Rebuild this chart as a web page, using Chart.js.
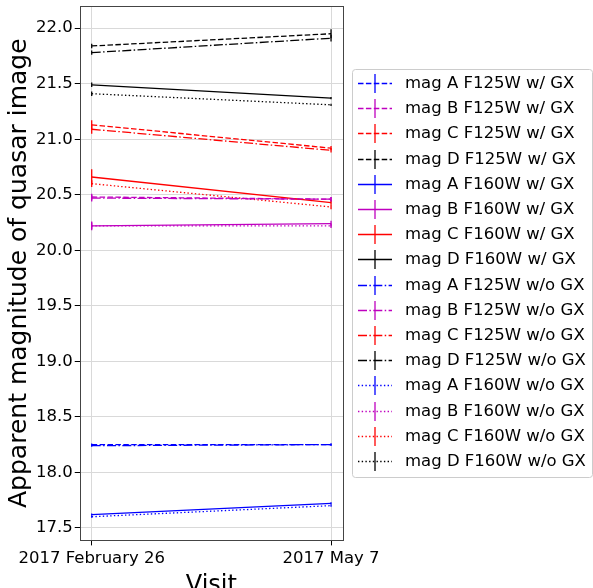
<!DOCTYPE html>
<html>
<head>
<meta charset="utf-8">
<script src="https://cdn.jsdelivr.net/npm/chart.js@4.4.1/dist/chart.umd.min.js"></script>
<style>
  html, body { margin: 0; padding: 0; background: #fff; overflow: hidden; }
  #wrap { width: 593px; height: 600px; position: relative; }
</style>
</head>
<body>
<div id="wrap"><canvas id="c"></canvas></div>
<script>
const visits = ['2017 February 26', '2017 May 7'];

// apparent magnitude per visit [Feb 26, May 7]
const magA_F125W_gx = [18.25, 18.25];
const magB_F125W_gx = [20.48, 20.46];
const magC_F125W_gx = [21.13, 20.92];
const magD_F125W_gx = [21.84, 21.95];
const magA_F160W_gx = [17.62, 17.72];
const magB_F160W_gx = [20.22, 20.24];
const magC_F160W_gx = [20.66, 20.43];
const magD_F160W_gx = [21.49, 21.37];
const magA_F125W_nogx = [18.24, 18.25];
const magB_F125W_nogx = [20.47, 20.46];
const magC_F125W_nogx = [21.09, 20.90];
const magD_F125W_nogx = [21.78, 21.91];
const magA_F160W_nogx = [17.60, 17.70];
const magB_F160W_nogx = [20.22, 20.22];
const magC_F160W_nogx = [20.60, 20.39];
const magD_F160W_nogx = [21.41, 21.31];

// error bar half-lengths per visit
const errA_F125W_gx = [0.01, 0.01];
const errB_F125W_gx = [0.03, 0.02];
const errC_F125W_gx = [0.04, 0.02];
const errD_F125W_gx = [0.02, 0.04];
const errA_F160W_gx = [0.01, 0.01];
const errB_F160W_gx = [0.04, 0.025];
const errC_F160W_gx = [0.07, 0.02];
const errD_F160W_gx = [0.02, 0.01];
const errA_F125W_nogx = [0.01, 0.01];
const errB_F125W_nogx = [0.03, 0.02];
const errC_F125W_nogx = [0.04, 0.02];
const errD_F125W_nogx = [0.02, 0.03];
const errA_F160W_nogx = [0.01, 0.01];
const errB_F160W_nogx = [0.03, 0.02];
const errC_F160W_nogx = [0.03, 0.02];
const errD_F160W_nogx = [0.02, 0.01];

const seriesNames = [
  'mag A F125W w/ GX', 'mag B F125W w/ GX', 'mag C F125W w/ GX', 'mag D F125W w/ GX',
  'mag A F160W w/ GX', 'mag B F160W w/ GX', 'mag C F160W w/ GX', 'mag D F160W w/ GX',
  'mag A F125W w/o GX', 'mag B F125W w/o GX', 'mag C F125W w/o GX', 'mag D F125W w/o GX',
  'mag A F160W w/o GX', 'mag B F160W w/o GX', 'mag C F160W w/o GX', 'mag D F160W w/o GX'
];

const mags = [
  magA_F125W_gx, magB_F125W_gx, magC_F125W_gx, magD_F125W_gx,
  magA_F160W_gx, magB_F160W_gx, magC_F160W_gx, magD_F160W_gx,
  magA_F125W_nogx, magB_F125W_nogx, magC_F125W_nogx, magD_F125W_nogx,
  magA_F160W_nogx, magB_F160W_nogx, magC_F160W_nogx, magD_F160W_nogx
];
const errs = [
  errA_F125W_gx, errB_F125W_gx, errC_F125W_gx, errD_F125W_gx,
  errA_F160W_gx, errB_F160W_gx, errC_F160W_gx, errD_F160W_gx,
  errA_F125W_nogx, errB_F125W_nogx, errC_F125W_nogx, errD_F125W_nogx,
  errA_F160W_nogx, errB_F160W_nogx, errC_F160W_nogx, errD_F160W_nogx
];

const FONT = 'DejaVu Sans';
const colors = ['#0000ff', '#bf00bf', '#ff0000', '#000000'];   // A, B, C, D
const dashes = [[5.5, 2.4], [], [9, 2.4, 1.5, 2.4], [1.4, 2.3]]; // F125 gx, F160 gx, F125 no gx, F160 no gx

const datasets = mags.map((m, i) => ({
  label: seriesNames[i],
  data: m.map((v, j) => ({ x: j, y: v, err: errs[i][j] })),
  borderColor: colors[i % 4],
  borderDash: dashes[Math.floor(i / 4)],
  borderWidth: 1.3,
  pointRadius: 0,
  fill: false,
  tension: 0
}));

// vertical error bars, no caps (like matplotlib errorbar default)
const errorBars = {
  id: 'errorBars',
  afterDatasetsDraw(chart) {
    const ctx = chart.ctx, xs = chart.scales.x, ys = chart.scales.y;
    ctx.save();
    chart.data.datasets.forEach(ds => {
      ctx.strokeStyle = ds.borderColor;
      ctx.lineWidth = 1.3;
      ctx.setLineDash([]);
      ds.data.forEach(p => {
        const x = xs.getPixelForValue(p.x);
        ctx.beginPath();
        ctx.moveTo(x, ys.getPixelForValue(p.y - p.err));
        ctx.lineTo(x, ys.getPixelForValue(p.y + p.err));
        ctx.stroke();
      });
    });
    ctx.restore();
  }
};

const frame = {
  id: 'frame',
  afterDraw(chart) {
    const a = chart.chartArea, ctx = chart.ctx;
    ctx.save();
    ctx.strokeStyle = '#444';
    ctx.lineWidth = 1;
    ctx.strokeRect(Math.round(a.left) + 0.5, Math.round(a.top) + 0.5,
      Math.round(a.right - a.left), Math.round(a.bottom - a.top));
    ctx.restore();
  }
};

// matplotlib-like legend outside on the right
const sideLegend = {
  id: 'sideLegend',
  afterDraw(chart) {
    const ctx = chart.ctx;
    const left = 352, top = 69, w = 240, h = 408, row = 25.2;
    ctx.save();
    ctx.strokeStyle = '#cccccc';
    ctx.lineWidth = 1;
    ctx.beginPath();
    ctx.roundRect(left + 0.5, top + 0.5, w, h, 3);
    ctx.stroke();
    ctx.font = '16.5px "' + FONT + '"';
    ctx.textBaseline = 'middle';
    chart.data.datasets.forEach((ds, i) => {
      const cy = Math.round(top + 14 + i * row) + 0.5;
      ctx.strokeStyle = ds.borderColor;
      ctx.lineWidth = 1.3;
      ctx.setLineDash(ds.borderDash);
      ctx.beginPath();
      ctx.moveTo(left + 6, cy);
      ctx.lineTo(left + 40, cy);
      ctx.stroke();
      ctx.setLineDash([]);
      ctx.beginPath();
      ctx.moveTo(left + 23, cy - 9.5);
      ctx.lineTo(left + 23, cy + 9.5);
      ctx.stroke();
      ctx.fillStyle = '#000';
      ctx.fillText(ds.label, left + 53, cy);
    });
    ctx.restore();
  }
};

const tickFont = { family: FONT, size: 16.5 };

new Chart(document.getElementById('c'), {
  type: 'line',
  data: { datasets },
  options: {
    responsive: true,
    maintainAspectRatio: false,
    animation: false,
    layout: { padding: { left: 4, top: 6, right: 250, bottom: 0 } },
    plugins: { legend: { display: false }, tooltip: { enabled: false } },
    scales: {
      x: {
        type: 'linear',
        min: -0.05,
        max: 1.05,
        afterBuildTicks: s => { s.ticks = visits.map((_, i) => ({ value: i })); },
        ticks: { callback: v => visits[v], autoSkip: false, maxRotation: 0, font: tickFont, color: '#000', padding: 3 },
        grid: { color: '#d9d9d9', tickColor: '#000', tickLength: 5 },
        border: { display: false },
        title: { display: true, text: 'Visit', font: { family: FONT, size: 24 }, color: '#000', padding: { top: 0, bottom: 0 } }
      },
      y: {
        min: 17.387,
        max: 22.2,
        afterFit: s => { s.paddingTop = 0; s.paddingBottom = 0; },
        ticks: { stepSize: 0.5, includeBounds: false, callback: v => v.toFixed(1), font: tickFont, color: '#000', padding: 2 },
        grid: { color: '#d9d9d9', tickColor: '#000', tickLength: 5 },
        border: { display: false },
        title: { display: true, text: 'Apparent magnitude of quasar image', font: { family: FONT, size: 25 }, color: '#000', padding: { top: 0, bottom: 0 } }
      }
    }
  },
  plugins: [errorBars, frame, sideLegend]
});
</script>
</body>
</html>
